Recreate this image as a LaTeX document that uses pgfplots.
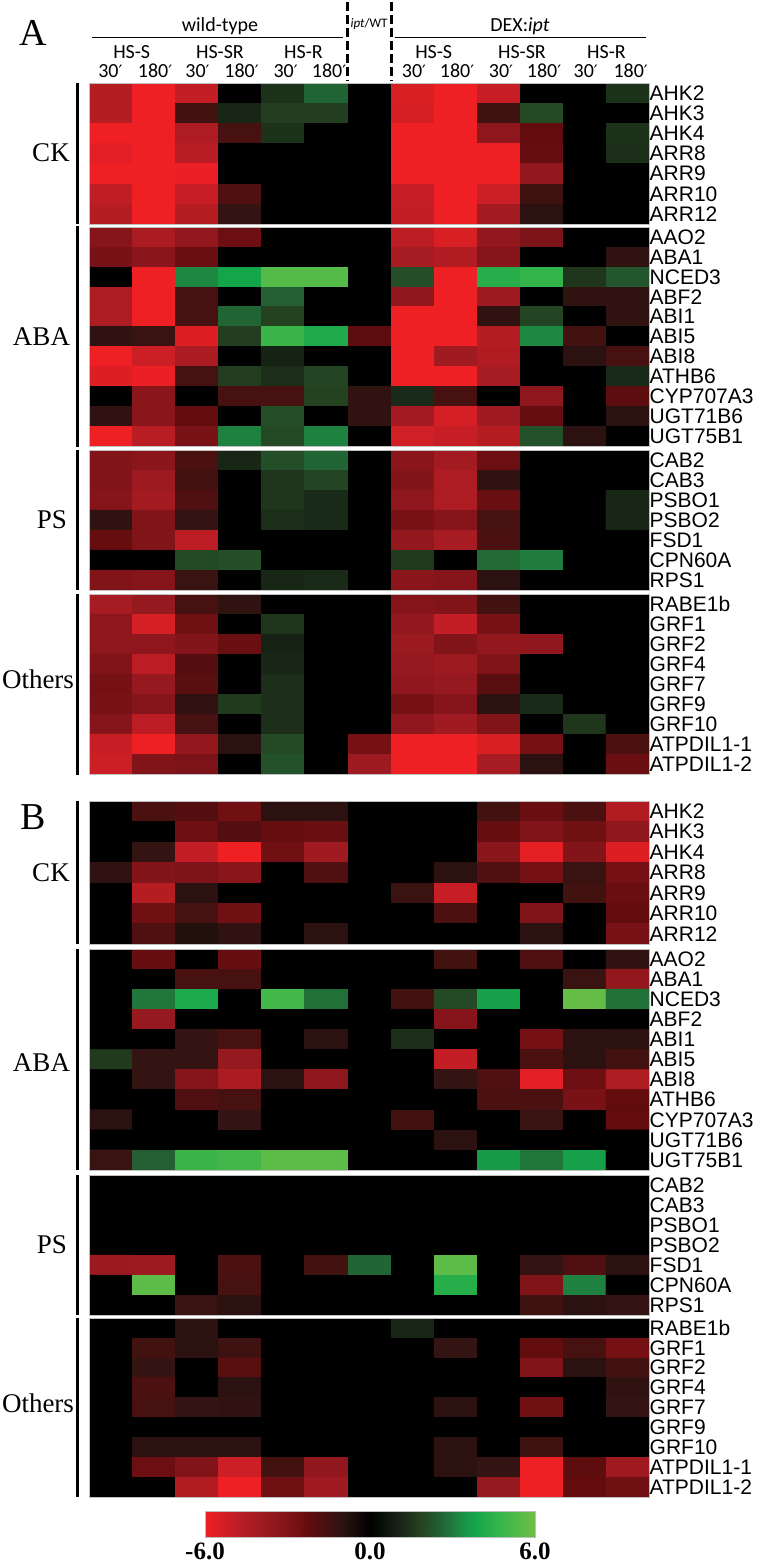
\documentclass[border=0pt]{standalone}
\usepackage{fontspec}
\usepackage{pgfplots}
\pgfplotsset{compat=1.18}
\setmainfont{Liberation Sans}
\newfontfamily\tms{Liberation Serif}
\newfontfamily\clb{Carlito}
\newfontfamily\djv{DejaVu Sans}
\newcommand{\prm}{{\djv\fontsize{17}{18}\selectfont ′}}

\pgfplotsset{
  colormap={hs}{
    rgb255(0pt)=(238,32,36) rgb255(10pt)=(195,30,37) rgb255(20pt)=(160,27,33)
    rgb255(30pt)=(128,20,25) rgb255(38pt)=(98,12,14) rgb255(48pt)=(52,20,18)
    rgb255(53pt)=(30,15,12) rgb255(60pt)=(0,0,0) rgb255(72pt)=(26,42,24)
    rgb255(78pt)=(36,65,32) rgb255(85pt)=(35,95,50) rgb255(92pt)=(30,135,65)
    rgb255(98pt)=(20,165,75) rgb255(106pt)=(50,180,75) rgb255(120pt)=(110,190,70)
  },
  heat/.style={
    scale only axis, width=559.5pt,
    colormap name=hs, point meta min=-6, point meta max=6,
    xmin=-0.5, xmax=12.5, y dir=reverse,
    xtick=\empty, yticklabel pos=right, ytick style={draw=none},
    yticklabel style={font=\fontsize{21}{22}\selectfont, anchor=west, inner sep=0pt, xshift=0.5pt},
    axis line style={draw=black!25, line width=0.6pt},
    axis background/.style={fill=black},
    axis on top,
  },
}

% \heat{top}{bottom}{rows}{last row}{labels}{values, row by row}
\newcommand{\heat}[6]{%
  \begin{axis}[heat, at={(89.5pt,-#1pt)}, anchor=north west, height={(#2-#1)*1pt},
      ymin=-0.5, ymax=#4.5, ytick={0,...,#4}, yticklabels={#5}]
    \addplot[matrix plot*, mesh/cols=13, mesh/ordering=x varies, point meta=explicit]
      table[row sep=\\, header=false, meta index=0,
            x expr={\coordindex-13*floor((\coordindex+0.5)/13)},
            y expr={floor((\coordindex+0.5)/13)}] {#6};
  \end{axis}%
}

\begin{document}
\begin{tikzpicture}
\useasboundingbox (0,0) rectangle (759pt,-1566pt);

% panel A
\heat{83}{224}{7}{6}{AHK2,AHK3,AHK4,ARR8,ARR9,ARR10,ARR12}{
-4.6\\-6\\-5\\0\\1.4\\2.6\\0\\-5.5\\-6\\-5.1\\0\\0\\1.4\\
-4.6\\-6\\-1.5\\1.1\\1.7\\1.7\\0\\-5.4\\-6\\-1.4\\2\\0\\0\\
-6\\-6\\-4.4\\-1.6\\1.4\\0\\0\\-6\\-6\\-3.4\\-2.2\\0\\1.4\\
-5.7\\-6\\-4.7\\0\\0\\0\\0\\-6\\-6\\-6\\-2.3\\0\\1.3\\
-6\\-6\\-5.9\\0\\0\\0\\0\\-6\\-6\\-6\\-3.6\\0\\0\\
-4.9\\-6\\-5.1\\-1.8\\0\\0\\0\\-5.1\\-6\\-5.2\\-1.4\\0\\0\\
-4.6\\-6\\-4.6\\-1.2\\0\\0\\0\\-5\\-6\\-4.1\\-1\\0\\0\\
}
\heat{227}{446}{11}{10}{AAO2,ABA1,NCED3,ABF2,ABI1,ABI5,ABI8,ATHB6,CYP707A3,UGT71B6,UGT75B1}{
-3.2\\-4.3\\-3.6\\-2.5\\0\\0\\0\\-4.8\\-5.5\\-3.6\\-2.9\\0\\0\\
-2.8\\-3.3\\-2.4\\0\\0\\0\\0\\-4.2\\-4.5\\-3.2\\0\\0\\-1.1\\
0\\-6\\3.2\\3.8\\5.4\\5.4\\0\\2.1\\-6\\4.3\\4.6\\1.5\\2.3\\
-4.4\\-6\\-1.6\\0\\2.5\\0\\0\\-3.5\\-6\\-3.9\\0\\-1.1\\-1.1\\
-4.4\\-6\\-1.6\\2.6\\1.8\\0\\0\\-6\\-6\\-1.1\\1.9\\0\\-1.1\\
-1.1\\-1.3\\-5.6\\1.7\\4.8\\4.1\\-2.1\\-6\\-6\\-4.6\\3.2\\-1.5\\0\\
-6\\-5.2\\-4.3\\0\\1\\0\\0\\-6\\-4\\-4.5\\0\\-1\\-1.6\\
-5.6\\-5.9\\-1.6\\1.7\\1.3\\1.9\\0\\-6\\-6\\-4.2\\0\\0\\1.2\\
0\\-3.3\\0\\-1.6\\-1.6\\1.8\\-1.1\\1.2\\-1.6\\0\\-3.4\\0\\-2.1\\
-1.1\\-3.3\\-2.2\\0\\2.1\\0\\-1.1\\-4.1\\-5.4\\-4\\-2.3\\0\\-1\\
-6\\-4.7\\-2.8\\3.1\\2\\3.1\\0\\-5.3\\-5.1\\-4.6\\2.2\\-1\\0\\
}
\heat{450}{590}{7}{6}{CAB2,CAB3,PSBO1,PSBO2,FSD1,CPN60A,RPS1}{
-3.1\\-3.3\\-1.7\\1.1\\2.1\\2.6\\0\\-3.3\\-4.1\\-2.5\\0\\0\\0\\
-3\\-3.9\\-1.5\\0\\1.5\\1.9\\0\\-3.1\\-4.4\\-1.1\\0\\0\\0\\
-3.2\\-4.1\\-1.8\\0\\1.5\\1.2\\0\\-3.4\\-4.4\\-2.4\\0\\0\\1.1\\
-1.1\\-3\\-1.2\\0\\1.3\\1.2\\0\\-2.8\\-3.2\\-1.6\\0\\0\\1.1\\
-2.3\\-3\\-4.8\\0\\0\\0\\0\\-3.6\\-4.2\\-1.7\\0\\0\\0\\
0\\0\\2\\2.1\\0\\0\\0\\1.6\\0\\2.7\\3\\0\\0\\
-3\\-3.2\\-1.3\\0\\1.1\\1.2\\0\\-3.3\\-3.2\\-1\\0\\0\\0\\
}
\heat{594}{774}{9}{8}{RABE1b,GRF1,GRF2,GRF4,GRF7,GRF9,GRF10,ATPDIL1-1,ATPDIL1-2}{
-4.2\\-3.7\\-1.6\\-1.1\\0\\0\\0\\-3.2\\-3\\-1.5\\0\\0\\0\\
-3.4\\-5.4\\-2.6\\0\\1.5\\0\\0\\-3.6\\-5\\-2.8\\0\\0\\0\\
-3.4\\-3.4\\-3.1\\-2.4\\1\\0\\0\\-3.8\\-3\\-3.6\\-3.5\\0\\0\\
-3\\-4.8\\-1.9\\0\\1.1\\0\\0\\-3.7\\-3.9\\-3\\0\\0\\0\\
-2.7\\-3.7\\-2\\0\\1.3\\0\\0\\-3.5\\-3.7\\-2\\0\\0\\0\\
-2.8\\-3.2\\-1.1\\1.6\\1.3\\0\\0\\-2.7\\-3.2\\-1\\1.2\\0\\0\\
-3.2\\-4.8\\-1.6\\0\\1.3\\0\\0\\-3.5\\-4\\-3\\0\\1.5\\0\\
-5.1\\-6\\-3.6\\-1\\2\\0\\-2.7\\-6\\-6\\-5.5\\-2.7\\0\\-1.7\\
-5.2\\-3\\-2.9\\0\\2.2\\0\\-3.9\\-6\\-6\\-4.2\\-1\\0\\-2.4\\
}

% panel B
\heat{801}{944}{7}{6}{AHK2,AHK3,AHK4,ARR8,ARR9,ARR10,ARR12}{
0\\-1.7\\-1.9\\-2.6\\-1\\-1\\0\\0\\0\\-1.5\\-2.4\\-1.7\\-4.5\\
0\\0\\-2.5\\-1.9\\-2.3\\-2.4\\0\\0\\0\\-2.3\\-3\\-2.6\\-3.5\\
0\\-1.2\\-5\\-6\\-2.6\\-4\\0\\0\\0\\-3.3\\-5.8\\-3.1\\-5.6\\
-1.1\\-3.1\\-2.9\\-3.3\\0\\-1.8\\0\\0\\-1\\-1.8\\-2.7\\-1.3\\-2.7\\
0\\-4.6\\-1\\0\\0\\0\\0\\-1.3\\-5.1\\0\\0\\-1.5\\-2.4\\
0\\-2.6\\-1.6\\-2.6\\0\\0\\0\\0\\-1.7\\0\\-3\\0\\-2.2\\
0\\-1.8\\-0.8\\-1.1\\0\\-1\\0\\0\\0\\0\\-1\\0\\-2.8\\
}
\heat{949}{1170}{11}{10}{AAO2,ABA1,NCED3,ABF2,ABI1,ABI5,ABI8,ATHB6,CYP707A3,UGT71B6,UGT75B1}{
0\\-2.3\\0\\-2.3\\0\\0\\0\\0\\-1.5\\0\\-1.8\\0\\-1.1\\
0\\0\\-1.6\\-1.6\\0\\0\\0\\0\\0\\0\\0\\-1.3\\-3.6\\
0\\2.9\\4\\0\\5\\2.8\\0\\-1.5\\2\\3.7\\0\\5.8\\2.8\\
0\\-3.7\\0\\0\\0\\0\\0\\0\\-3.2\\0\\0\\0\\0\\
0\\0\\-1.2\\-1.6\\0\\-1\\0\\1.3\\0\\0\\-2.7\\-1\\-1\\
1.6\\-1.2\\-1.2\\-3.7\\0\\0\\0\\0\\-5\\0\\-1.7\\-1\\-1.5\\
0\\-1.2\\-3.2\\-4.3\\-1\\-3.4\\0\\0\\-1.2\\-1.8\\-5.7\\-2.5\\-4.4\\
0\\0\\-1.8\\-1.6\\0\\0\\0\\0\\0\\-1.7\\-1.7\\-2.8\\-2.2\\
-1\\0\\0\\-1.2\\0\\0\\0\\-1.5\\0\\0\\-1.3\\0\\-2.2\\
0\\0\\0\\0\\0\\0\\0\\0\\-1\\0\\0\\0\\0\\
-1.3\\2.5\\4.8\\5\\5.6\\5.6\\0\\0\\0\\3.6\\2.9\\3.7\\0\\
}
\heat{1175}{1315}{7}{6}{CAB2,CAB3,PSBO1,PSBO2,FSD1,CPN60A,RPS1}{
0\\0\\0\\0\\0\\0\\0\\0\\0\\0\\0\\0\\0\\
0\\0\\0\\0\\0\\0\\0\\0\\0\\0\\0\\0\\0\\
0\\0\\0\\0\\0\\0\\0\\0\\0\\0\\0\\0\\0\\
0\\0\\0\\0\\0\\0\\0\\0\\0\\0\\0\\0\\0\\
-3.8\\-3.9\\0\\-1.7\\0\\-1.5\\2.6\\0\\5.6\\0\\-1.2\\-1.8\\-1\\
0\\5.6\\0\\-1.6\\0\\0\\0\\0\\4.3\\0\\-3\\3.1\\0\\
0\\0\\-1.3\\-1\\0\\0\\0\\0\\0\\0\\-1.4\\-1\\-1.2\\
}
\heat{1318}{1497}{9}{8}{RABE1b,GRF1,GRF2,GRF4,GRF7,GRF9,GRF10,ATPDIL1-1,ATPDIL1-2}{
0\\0\\-1\\0\\0\\0\\0\\1.1\\0\\0\\0\\0\\0\\
0\\-1.5\\-1\\-1.4\\0\\0\\0\\0\\-1.2\\0\\-2.2\\-1.6\\-2.7\\
0\\-1.2\\0\\-2\\0\\0\\0\\0\\0\\0\\-3\\-1\\-1.5\\
0\\-1.7\\0\\-1\\0\\0\\0\\0\\0\\0\\0\\0\\-1.1\\
0\\-1.6\\-1.2\\-1.1\\0\\0\\0\\0\\-1\\0\\-2.6\\0\\-1.2\\
0\\0\\0\\0\\0\\0\\0\\0\\0\\0\\0\\0\\0\\
0\\-1\\-1\\-1\\0\\0\\0\\0\\-1\\0\\-1.4\\0\\0\\
0\\-2.5\\-3\\-5.2\\-1.5\\-3.5\\0\\0\\-1\\-1.2\\-6\\-2.1\\-4\\
0\\0\\-4.5\\-6\\-2.6\\-4\\0\\0\\0\\-3.7\\-6\\-2.2\\-2.6\\
}

% colour key
\begin{axis}[
    scale only axis, at={(205pt,-1511pt)}, anchor=north west, width=330pt, height=26.5pt,
    colormap name=hs, point meta min=-6, point meta max=6,
    view={0}{90}, xmin=-6, xmax=6, ymin=0, ymax=1, ytick=\empty,
    xtick={-6,0,6}, xticklabels={-6.0,0.0,6.0}, xtick style={draw=none},
    xticklabel style={font=\tms\bfseries\fontsize{25}{26}\selectfont, inner sep=0pt, yshift=-5pt},
    axis line style={draw=black!25, line width=0.6pt}, axis on top,
  ]
  \addplot3[surf, shader=interp, mesh/rows=2, point meta=x]
    coordinates {(-6,0,0) (6,0,0) (-6,1,0) (6,1,0)};
\end{axis}

\begin{scope}[x=1pt, y=-1pt]
  % panel letters
  \node[font=\tms\fontsize{38}{40}\selectfont, inner sep=0pt] at (33.5,33) {A};
  \node[font=\tms\fontsize{38}{40}\selectfont, inner sep=0pt] at (33,817) {B};

  % group brackets and names
  \foreach \a/\b in {83/224,226/447,450/590,594/775,801/944,949/1170,1175/1315,1318/1497}
    \draw[line width=2.4pt] (77.5,\a) -- (77.5,\b);
  \foreach \x/\y/\t in {51/153/CK,41.5/337/ABA,52/520/PS,38/679/Others,51/873/CK,41.5/1063/ABA,52/1245/PS,38/1403/Others}
    \node[font=\tms\fontsize{27}{28}\selectfont, inner sep=0pt] at (\x,\y) {\t};

  % column headers
  \draw[line width=1.8pt] (92,37.5) -- (343,37.5);
  \draw[line width=1.8pt] (394.5,37.5) -- (646,37.5);
  \draw[line width=3pt, dash pattern=on 9pt off 4pt] (347,2) -- (347,81);
  \draw[line width=3pt, dash pattern=on 9pt off 4pt] (391,2) -- (391,81);
  \begin{scope}[every node/.style={font=\clb\fontsize{20}{21}\selectfont, inner sep=0pt}]
    \node at (220,26) {wild-type};
    \node at (520,26) {DEX:\textit{ipt}};
    \node[font=\clb\fontsize{13}{14}\selectfont] at (369,24) {\textit{ipt}/WT};
    \foreach \x/\t in {131.7/HS-S,220/HS-SR,303.5/HS-R,433.7/HS-S,522/HS-SR,606.5/HS-R}
      \node at (\x,52) {\t};
    \foreach \x in {110.4,197.5,285.6,414,501,585.7}
      \node at (\x,71) {30\prm};
    \foreach \x in {155,241.5,329,457,544,630.7}
      \node at (\x,71) {180\prm};
  \end{scope}
\end{scope}
\end{tikzpicture}
\end{document}
